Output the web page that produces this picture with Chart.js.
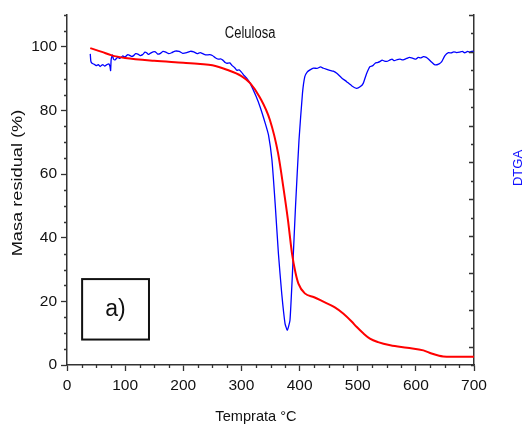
<!DOCTYPE html>
<html><head><meta charset="utf-8">
<script src="https://cdn.jsdelivr.net/npm/chart.js@4.4.1/dist/chart.umd.min.js"></script>
<style>html,body{margin:0;padding:0;background:#fff;overflow:hidden}#wrap{width:523px;height:424px;position:relative}</style>
</head><body><div id="wrap"><canvas id="c" width="523" height="424"></canvas></div>
<script>
// ---- data ----
const tgaTemp = [40,60,77,100,150,200,229,250,275,300,315,332,349,363,372,380,387,393,398,409,425,441,460,475,490,498,510,521,535,556,585,613,627,640,647,660,700];
const tgaMass = [99.6,98.4,97.3,96.5,95.6,95.0,94.6,94.2,92.8,90.8,88.6,84.0,77.0,66.6,56.0,45.6,35.0,29.0,25.6,22.5,21.3,19.9,18.2,16.2,13.6,12.0,9.9,8.3,7.2,6.2,5.4,4.6,3.6,2.9,2.7,2.6,2.6];
const dtgaTemp = [40,41,43,47,50,54,57,60,62,65,68,72,74,75,76,78,80,82.5,87,91,96,100,104,107,111,114,118,122,126,130,134,137,140,143,148,152,156,160,165,170,175,180,186,193,199,206,212,218,224,229,235,240,245,250,255,260,264,268,272,275,280,284,288,292,296,300,305,309,315,325,332,341,346.6,352.5,358,363.6,369.3,375,379,383.5,388,393,399,405,409,413,418,424,430,436,441,447,452,458,464,472,481,490,498,504,509.5,515,521,526,530,534,538,542,546,550,555,559,563,568,573,578,584,589,595,600,604,608,613,618,622,627,633,640,644.5,650,656,661,665,670,675,680,684,689,693,697,700];
const dtgaValue = [-2.11,-2.5,-2.62,-2.68,-2.75,-2.7,-2.8,-2.72,-2.7,-2.78,-2.71,-2.65,-2.8,-3.02,-2.4,-2.17,-2.4,-2.44,-2.3,-2.35,-2.22,-2.28,-2.16,-2.18,-2.25,-2.22,-2.1,-2.12,-2.2,-2.15,-2.02,-2.05,-2.14,-2.08,-2.0,-2.0,-2.12,-2.1,-1.98,-2.02,-2.1,-2.05,-1.96,-1.98,-2.08,-2.04,-1.97,-2.0,-2.1,-2.04,-2.12,-2.17,-2.15,-2.2,-2.32,-2.4,-2.38,-2.45,-2.58,-2.62,-2.6,-2.75,-2.85,-3.0,-2.98,-3.1,-3.3,-3.43,-3.71,-4.4,-4.98,-5.88,-6.52,-7.87,-10.23,-12.95,-15.12,-16.75,-17.11,-16.57,-13.85,-10.41,-6.8,-4.25,-3.35,-3.1,-2.98,-2.88,-2.9,-2.82,-2.89,-2.95,-3.0,-3.05,-3.16,-3.4,-3.62,-3.85,-3.98,-3.9,-3.71,-3.2,-2.8,-2.75,-2.62,-2.58,-2.53,-2.45,-2.5,-2.52,-2.45,-2.4,-2.48,-2.42,-2.4,-2.44,-2.36,-2.3,-2.35,-2.4,-2.3,-2.33,-2.26,-2.3,-2.4,-2.55,-2.71,-2.65,-2.53,-2.2,-2.04,-2.06,-2.0,-2.04,-2.02,-1.98,-2.05,-1.98,-2.02,-1.96,-2.0];
const xTickValues = [0,100,200,300,400,500,600,700];
const yTickValues = [0,20,40,60,80,100];
const chartTitle = 'Celulosa';
const xTitle = 'Temprata °C';
const yTitle = 'Masa residual (%)';
const y2Title = 'DTGA';
const panelLabel = 'a)';

const AXIS = '#333333';
const TICKFONT = "'Liberation Sans',Arial,sans-serif";
const SANS = "'Liberation Sans',Arial,sans-serif";

const decor = {
  id: 'decor',
  afterDraw(chart) {
    const ctx = chart.ctx, x = chart.scales.x, y = chart.scales.y, y2 = chart.scales.y2, ca = chart.chartArea;
    ctx.save();
    ctx.strokeStyle = AXIS; ctx.lineWidth = 1.3;
    // minor ticks
    ctx.beginPath();
    for (let v = 0; v <= 700; v += 25) {
      if (v % 100 === 0) continue;
      const px = Math.round(x.getPixelForValue(v)) + 0.5;
      ctx.moveTo(px, ca.bottom); ctx.lineTo(px, ca.bottom + 3);
    }
    for (let v = 0; v <= 110; v += 5) {
      if (v % 20 === 0 && v <= 100) continue;
      const py = Math.round(y.getPixelForValue(v)) + 0.5;
      ctx.moveTo(ca.left, py); ctx.lineTo(ca.left - 3, py);
    }
    // right axis inward ticks
    for (let v = 0; v >= -19; v -= 1) {
      const py = Math.round(y2.getPixelForValue(v)) + 0.5;
      ctx.moveTo(ca.right, py); ctx.lineTo(ca.right - (v % 2 === 0 ? 5 : 3), py);
    }
    ctx.stroke();

    // panel box
    const bx1 = x.getPixelForValue(26), bx2 = x.getPixelForValue(141);
    const by1 = y.getPixelForValue(27), by2 = y.getPixelForValue(8);
    ctx.lineWidth = 2; ctx.strokeStyle = '#111';
    ctx.strokeRect(bx1, by1, bx2 - bx1, by2 - by1);
    ctx.fillStyle = '#111';
    ctx.font = "23px " + SANS;
    ctx.textAlign = 'center'; ctx.textBaseline = 'middle';
    ctx.fillText(panelLabel, (bx1 + bx2) / 2, (by1 + by2) / 2);

    // chart title
    ctx.save();
    ctx.translate(x.getPixelForValue(315), y.getPixelForValue(104));
    ctx.scale(1, 1.2);
    ctx.font = "13px " + SANS;
    ctx.fillStyle = '#111';
    ctx.fillText(chartTitle, 0, 0);
    ctx.restore();

    // x title
    ctx.font = "14.6px " + SANS;
    ctx.textBaseline = 'alphabetic';
    ctx.fillStyle = '#111';
    ctx.fillText(xTitle, x.getPixelForValue(325), x.bottom - 3);

    // y title
    ctx.save();
    ctx.translate(y.left + 18.5, (ca.top + ca.bottom) / 2 - 7);
    ctx.rotate(-Math.PI / 2);
    ctx.scale(1.3, 1);
    ctx.font = "14px " + SANS;
    ctx.textBaseline = 'middle';
    ctx.fillText(yTitle, 0, 0);
    ctx.restore();

    // y2 title
    ctx.save();
    ctx.translate(y2.right - 4.5, (ca.top + ca.bottom) / 2 - 22);
    ctx.rotate(-Math.PI / 2);
    ctx.font = "13px " + SANS;
    ctx.fillStyle = '#1010ff';
    ctx.textBaseline = 'middle';
    ctx.fillText(y2Title, 0, 0);
    ctx.restore();
    ctx.restore();
  }
};

new Chart(document.getElementById('c'), {
  type: 'line',
  data: {
    datasets: [
      { label: 'TGA', data: tgaTemp.map((t, i) => ({x: t, y: tgaMass[i]})), borderColor: '#ff0000', borderWidth: 2, pointRadius: 0, cubicInterpolationMode: 'monotone', yAxisID: 'y' },
      { label: 'DTGA', data: dtgaTemp.map((t, i) => ({x: t, y: dtgaValue[i]})), borderColor: '#0000ff', borderWidth: 1.3, pointRadius: 0, tension: 0.15, yAxisID: 'y2' }
    ]
  },
  options: {
    responsive: false, animation: false, devicePixelRatio: 1,
    layout: { padding: { top: 15, left: 0, right: 0, bottom: 0 } },
    plugins: { legend: { display: false }, tooltip: { enabled: false }, title: { display: false } },
    scales: {
      x: {
        type: 'linear', position: 'bottom', min: 0, max: 700,
        afterBuildTicks: s => { s.ticks = xTickValues.map(v => ({value: v})); },
        afterFit: s => { s.height = 59; },
        ticks: { color: '#111', font: { family: TICKFONT, size: 15.5 }, padding: 5, maxRotation: 0, autoSkip: false },
        grid: { display: true, drawOnChartArea: false, drawTicks: true, tickLength: 6, color: AXIS, tickWidth: 1.3 },
        border: { display: true, color: AXIS, width: 1.5 }
      },
      y: {
        position: 'left', min: 0, max: 110,
        afterBuildTicks: s => { s.ticks = yTickValues.map(v => ({value: v})); },
        afterFit: s => { s.width = 67; },
        ticks: { color: '#111', font: { family: TICKFONT, size: 15.5 }, padding: 4, autoSkip: false },
        grid: { display: true, drawOnChartArea: false, drawTicks: true, tickLength: 6, color: AXIS, tickWidth: 1.3 },
        border: { display: true, color: AXIS, width: 1.5 }
      },
      y2: {
        position: 'right', min: -19, max: 0,
        afterFit: s => { s.width = 49; },
        ticks: { display: false },
        grid: { display: false, drawOnChartArea: false },
        border: { display: true, color: AXIS, width: 1.5 }
      }
    }
  },
  plugins: [decor]
});
</script></body></html>
